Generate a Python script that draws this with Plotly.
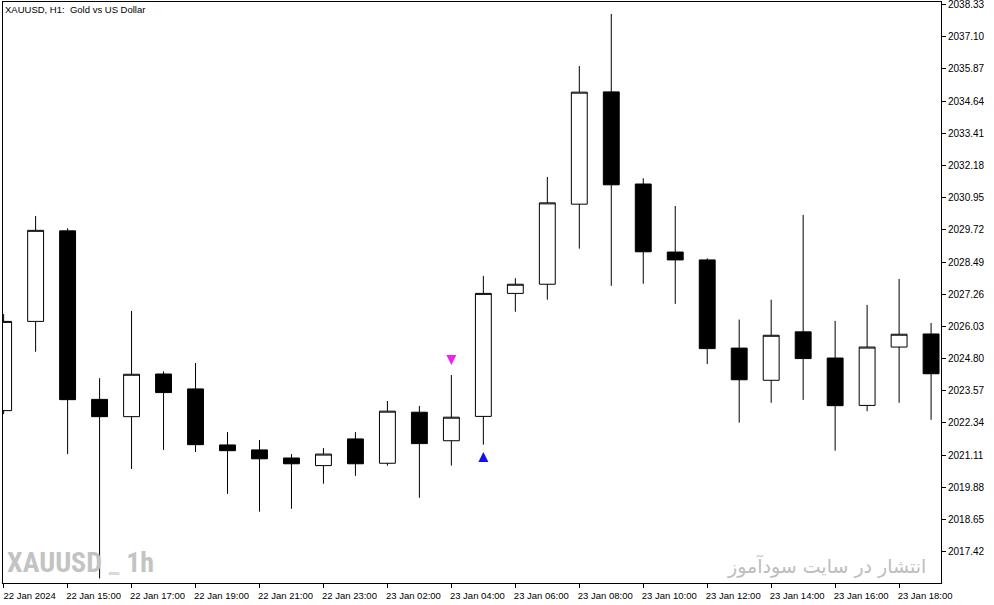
import plotly.graph_objects as go

# XAUUSD H1 bars, 22 Jan 13:00 -> 23 Jan 19:00 (no 00:00 bar, daily break)
bar_times = [
    "22 Jan 13:00", "22 Jan 14:00", "22 Jan 15:00", "22 Jan 16:00", "22 Jan 17:00",
    "22 Jan 18:00", "22 Jan 19:00", "22 Jan 20:00", "22 Jan 21:00", "22 Jan 22:00",
    "22 Jan 23:00", "23 Jan 01:00", "23 Jan 02:00", "23 Jan 03:00", "23 Jan 04:00",
    "23 Jan 05:00", "23 Jan 06:00", "23 Jan 07:00", "23 Jan 08:00", "23 Jan 09:00",
    "23 Jan 10:00", "23 Jan 11:00", "23 Jan 12:00", "23 Jan 13:00", "23 Jan 14:00",
    "23 Jan 15:00", "23 Jan 16:00", "23 Jan 17:00", "23 Jan 18:00", "23 Jan 19:00",
]
opens = [2022.81, 2026.22, 2029.68, 2023.24, 2022.58, 2024.21, 2023.64, 2021.50, 2021.31, 2021.00,
         2020.71, 2021.73, 2020.80, 2022.75, 2021.66, 2022.59, 2027.29, 2027.64, 2030.70, 2034.99,
         2031.47, 2028.87, 2028.57, 2025.20, 2023.97, 2025.82, 2024.82, 2023.01, 2025.24, 2025.74]
highs = [2026.50, 2030.25, 2029.78, 2024.05, 2026.62, 2024.31, 2024.63, 2021.99, 2021.69, 2021.15,
         2021.38, 2021.99, 2023.18, 2022.99, 2024.17, 2027.96, 2027.87, 2031.74, 2035.98, 2037.97,
         2031.69, 2030.63, 2028.63, 2026.29, 2027.05, 2030.29, 2026.24, 2026.85, 2027.84, 2026.16]
lows = [2022.68, 2025.06, 2021.15, 2016.40, 2020.58, 2021.31, 2021.23, 2019.63, 2018.95, 2019.06,
        2020.02, 2020.32, 2020.71, 2019.48, 2020.71, 2021.51, 2026.59, 2027.05, 2029.00, 2027.58,
        2027.66, 2026.89, 2024.59, 2022.35, 2023.11, 2023.22, 2021.28, 2022.79, 2023.11, 2022.46]
closes = [2026.22, 2029.70, 2023.23, 2022.58, 2024.20, 2023.50, 2021.51, 2021.28, 2020.97, 2020.78,
          2021.15, 2020.78, 2022.79, 2021.55, 2022.56, 2027.29, 2027.64, 2030.75, 2034.98, 2031.44,
          2028.88, 2028.57, 2025.18, 2023.99, 2025.69, 2024.80, 2023.00, 2025.24, 2025.73, 2024.22]

# x-axis labels (every second bar)
x_tick_bars = bar_times[::2]
x_tick_text = ["22 Jan 2024"] + x_tick_bars[1:]

# price scale on the right
y_ticks = [2017.42, 2018.65, 2019.88, 2021.11, 2022.34, 2023.57, 2024.80, 2026.03, 2027.26,
           2028.49, 2029.72, 2030.95, 2032.18, 2033.41, 2034.64, 2035.87, 2037.10, 2038.33]
y_tick_text = ["%.2f" % v for v in y_ticks]

# signal arrows
sell_bar, sell_price = "23 Jan 04:00", 2024.55
buy_bar, buy_price = "23 Jan 05:00", 2021.23

fig = go.Figure()

fig.add_trace(go.Candlestick(
    x=bar_times, open=opens, high=highs, low=lows, close=closes,
    increasing=dict(line=dict(color="black", width=1), fillcolor="white"),
    decreasing=dict(line=dict(color="black", width=1), fillcolor="black"),
    whiskerwidth=0,
    showlegend=False,
))

fig.add_trace(go.Scatter(
    x=[sell_bar], y=[sell_price], mode="markers",
    marker=dict(symbol="arrow-down", size=10, color="#f020f0", line=dict(width=0)),
    showlegend=False,
))
fig.add_trace(go.Scatter(
    x=[buy_bar], y=[buy_price], mode="markers",
    marker=dict(symbol="arrow-up", size=10, color="#1010f0", line=dict(width=0)),
    showlegend=False,
))

fig.update_layout(
    template="none",
    width=994, height=605,
    margin=dict(l=3, r=53, t=2, b=22, autoexpand=False),
    paper_bgcolor="white", plot_bgcolor="white",
    font=dict(family="Liberation Sans, Arial, sans-serif", size=10, color="black"),
    boxgap=0.29,
    showlegend=False,
)

fig.update_xaxes(
    type="category", categoryorder="array", categoryarray=bar_times,
    range=[-0.02, 29.31],
    rangeslider=dict(visible=False),
    automargin=False,
    showgrid=False, zeroline=False,
    showline=True, linecolor="black", linewidth=1, mirror=True,
    tickmode="array", tickvals=x_tick_bars, ticktext=x_tick_text,
    ticks="outside", ticklen=4, tickcolor="black", tickwidth=1,
    ticklabelshift=26, ticklabelstandoff=0,
    tickfont=dict(size=9.5),
)

fig.update_yaxes(
    side="right",
    range=[2016.224, 2038.425],
    automargin=False,
    showgrid=False, zeroline=False,
    showline=True, linecolor="black", linewidth=1, mirror=True,
    tickmode="array", tickvals=y_ticks, ticktext=y_tick_text,
    ticks="outside", ticklen=4, tickcolor="black", tickwidth=1,
    ticklabelstandoff=0, ticklabeloverflow="allow",
    tickfont=dict(size=10),
)

# chart caption top-left
fig.add_annotation(
    text="XAUUSD, H1:\u00a0 Gold vs US Dollar",
    xref="paper", yref="paper", x=0, y=1, xanchor="left", yanchor="top",
    xshift=0, yshift=0, showarrow=False,
    font=dict(size=9.5, color="black"),
)

# watermarks
fig.add_annotation(
    text="XAUUSD <span style='color:#dadada'>_</span> 1h",
    xref="paper", yref="paper", x=0, y=0, xanchor="left", yanchor="bottom",
    xshift=2, yshift=2, showarrow=False,
    font=dict(family="Liberation Sans Narrow, Roboto Condensed, DejaVu Sans Condensed, Liberation Sans",
              size=28, color="#c3c3c3", weight="bold"),
)
fig.add_annotation(
    text="انتشار در سایت سودآموز",
    xref="paper", yref="paper", x=1, y=0, xanchor="right", yanchor="bottom",
    xshift=-13, yshift=3, showarrow=False,
    font=dict(family="DejaVu Sans, Noto Sans, sans-serif", size=19, color="#bdbdbd"),
)

# drop the browser's default body margin so the figure sits at the page corner
fig.write_html("out.html", config={"displayModeBar": False},
               post_script="document.body.style.margin='0';")
